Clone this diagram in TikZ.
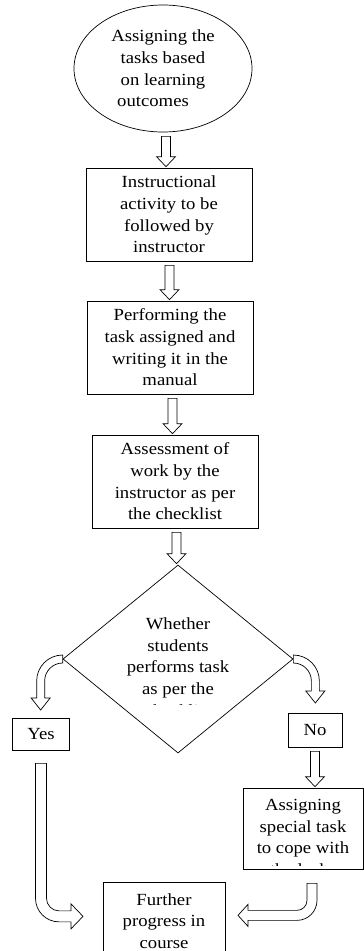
\documentclass[tikz,border=0pt]{standalone}
\usepackage{fontspec}
\setmainfont{Liberation Serif}[FakeStretch=1.1]
\usetikzlibrary{calc,shapes.geometric}
\newcommand{\dnarrow}[3][.5]{%
	\coordinate (mid) at ($(#2.south)!#1!(#3.north)$);
	\draw[blk] ($(mid |- #2.south)+(-4.5,-4)$) -- ($(mid |- #3.north)+(-4.5,11)$) -- ++(-5,0) -- ($(mid |- #3.north)+(0,1)$) -- ++(9.5,10) -- ++(-5,0) -- ($(mid |- #2.south)+(4.5,-4)$) -- cycle;}
\begin{document}
\begin{tikzpicture}[x=1pt,y=1pt,
		txt/.style={align=center, inner sep=0pt, font=\fontsize{17}{21.7}\selectfont},
		box/.style={txt, draw, line width=0.7pt},
		blk/.style={draw, fill=white, line width=0.7pt, line join=miter}]
		\useasboundingbox (0,0) rectangle (364,-951);
		\node[box, ellipse, minimum width=178pt, minimum height=127pt] (ell) at (163,-68.5) {Assigning the\\tasks based\\on learning\\outcomes\hspace*{20pt}};
		\node[box, minimum width=166pt, minimum height=93pt] (act) at (169,-214.5) {Instructional\\activity to be\\followed by\\instructor};
		\node[box, minimum width=166pt, minimum height=93pt] (perf) at (170,-347.5) {Performing the\\task assigned and\\writing it in the\\manual};
		\node[box, minimum width=166pt, minimum height=93pt] (asm) at (175,-481.5) {Assessment of\\work by the\\instructor as per\\the checklist};
		\node[draw, diamond, line width=0.7pt, inner sep=0pt, minimum width=230pt, minimum height=188pt] (dec) at (178,-659) {};
		\begin{scope}
			\clip ($(dec.center)+(-115,94)$) rectangle ($(dec.center)+(115,-45.5)$);
			\node[txt] (qtxt) at ($(dec.center)+(0,-8)$) {Whether\\students\\performs task\\as per the\\checklist};
		\end{scope}
		\node[box, minimum width=57pt, minimum height=32pt] (yes) at (41,-734) {Yes};
		\node[box, minimum width=54pt, minimum height=34pt] (no) at (315,-730) {No};
		\node[box, minimum width=120pt, minimum height=81pt] (spec) at (303,-828.5) {};
		\begin{scope}
			\clip (spec.north west) rectangle ($(spec.south east)+(0,4)$);
			\node[txt] (stxt) at ($(spec.center)+(0,-9)$) {Assigning\\special task\\to cope with\\the lacks};
		\end{scope}
		\node[box, minimum width=122pt, minimum height=78pt] (fur) at (164,-921) {Further\\progress in\\course};

		\dnarrow{ell}{act}
		\dnarrow{act}{perf}
		\dnarrow{perf}{asm}
		\dnarrow{asm}{dec}
		\dnarrow[0]{no}{spec}
		\draw[blk] ($(dec.west)+(0,4)$) arc[start angle=90,end angle=180,radius=26] -- ++(0,-17) -- ++(-5.5,0) -- ++(9.5,-12) -- ++(9.5,12) -- ++(-5.5,0) -- ++(0,17) arc[start angle=180,end angle=90,radius=18] -- cycle;
		\draw[blk] ($(dec.east)+(0,4)$) arc[start angle=90,end angle=0,radius=26] -- ++(0,-10) -- ++(5.5,0) -- ++(-9.5,-12) -- ++(-9.5,12) -- ++(5.5,0) -- ++(0,10) arc[start angle=0,end angle=90,radius=18] -- cycle;
		\draw[blk] ($(yes.south)+(-5.5,-13)$) -- ++(0,-135) arc[start angle=180,end angle=270,radius=23.5] -- ++(12,0) -- ++(0,-7) -- ++(12,12.5) -- ++(-12,12.5) -- ++(0,-7) -- ++(-12,0) arc[start angle=270,end angle=180,radius=12.5] -- ++(0,135) -- cycle;
		\draw[blk] ($(spec.south)+(14,-14)$) -- ++(0,-17) arc[start angle=0,end angle=-90,radius=20] -- ++(-49,0) -- ++(0,-6) -- ++(-10,11) -- ++(10,11) -- ++(0,-6) -- ++(49,0) arc[start angle=-90,end angle=0,radius=10] -- ++(0,17) -- cycle;
	\end{tikzpicture}
\end{document}
